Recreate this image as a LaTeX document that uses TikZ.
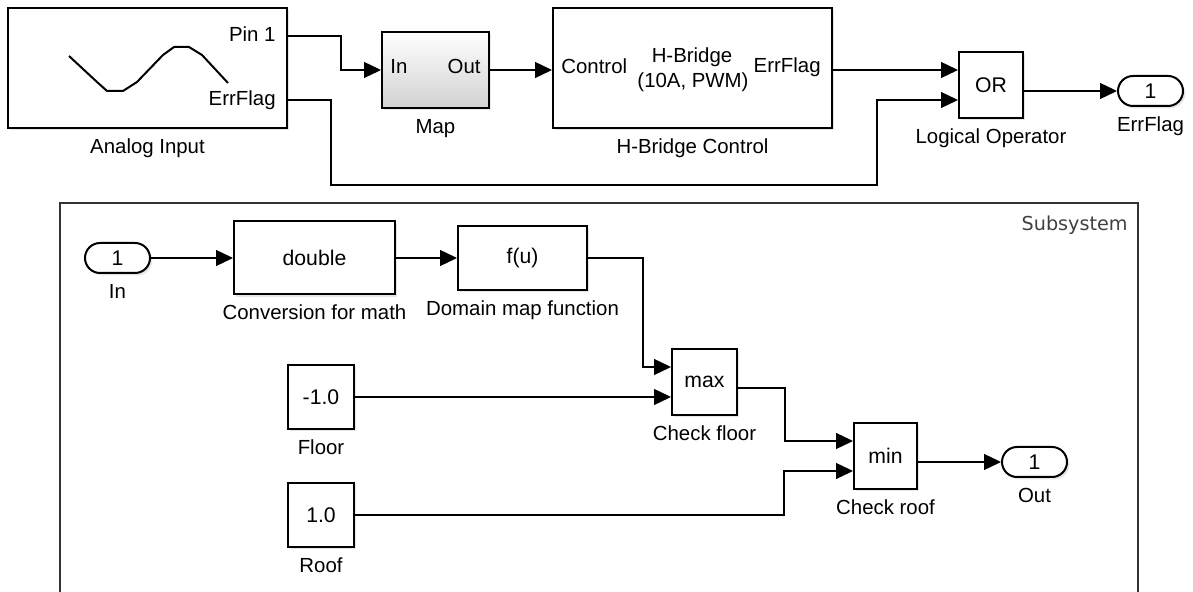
\documentclass[tikz,border=0pt]{standalone}
\usepackage{fontspec}
\setmainfont{Liberation Sans}
\newfontfamily\sysfont{DejaVu Sans}
\usetikzlibrary{arrows.meta,shadows}
\tikzset{
	blk/.style={draw,line width=1pt,fill=white,inner sep=0pt,
		drop shadow={shadow xshift=1.2pt,shadow yshift=-1.2pt,opacity=0.2},
		font=\fontsize{10.6}{12}\selectfont},
	port/.style={blk,rounded corners=7.5pt,minimum width=32.5pt,minimum height=15pt},
	lbl/.style={font=\fontsize{10.2}{12}\selectfont,inner sep=1pt,text height=7.4pt,text depth=2pt},
	every label/.style={lbl},
	label distance=3.5pt,
	sig/.style={line width=0.65pt,-{Triangle[length=8.5pt,width=8pt]}}
}
\begin{document}
\begin{tikzpicture}[x=0.5pt,y=-0.5pt]
	\useasboundingbox (0,0) rectangle (1193,592);
	\node[blk,minimum width=139.5pt,minimum height=60pt,label={below:Analog Input}] (ai) at (147.5,68) {};
	\draw[line width=1pt] (69,56) -- (97,82) -- (107,91) -- (123,91) -- (137,82) -- (163,55)
	-- (174,47) -- (189,47) -- (202,55) -- (228,83);
	\node[lbl,anchor=east] (aipin) at (278,36) {Pin 1};
	\node[lbl,anchor=east] (aierr) at (278,100) {ErrFlag};
	\node[blk,top color=white,bottom color=black!18,minimum width=53.5pt,minimum height=38pt,label={below:Map}] (map) at (435.5,70) {};
	\node[lbl,anchor=west] (mapin) at (388,68) {In};
	\node[lbl,anchor=east] (mapout) at (483,68) {Out};
	\node[blk,minimum width=139.5pt,minimum height=60pt,label={below:H-Bridge Control}] (hb) at (692.5,68) {};
	\node[lbl,anchor=west] (hbctl) at (559,68) {Control};
	\node[lbl] (hbname) at (692,57) {H-Bridge};
	\node[lbl] (hbspec) at (693,82) {(10A, PWM)};
	\node[lbl,anchor=east] (hberr) at (823,67) {ErrFlag};
	\node[blk,minimum width=32pt,minimum height=33pt,label={below:Logical Operator}] (or) at (991,85) {OR};
	\node[port,label={below:ErrFlag}] (errflag) at (1150.5,91) {1};
	\coordinate (errbus) at (877,185);
	\draw[sig] ([yshift=16pt]ai.east) -- ++(53,0) |- (map.west);
	\draw[sig] (map.east) -- (map.east -| hb.west);
	\draw[sig] ([yshift=-1pt]hb.east) -- ([yshift=7.5pt]or.west);
	\draw[sig] ([yshift=-16pt]ai.east) -- ++(43,0) |- (errbus) |- ([yshift=-7.5pt]or.west);
	\draw[sig] ([yshift=-3pt]or.east) -- ([yshift=-3pt]or.east -| errflag.west);

	\draw[line width=0.8pt,black!80] (60,595) -- (60,203) -- (1138,203) -- (1138,595);
	\node[font=\sysfont\fontsize{9.6}{11}\selectfont,text=black!75,anchor=east,inner sep=0pt] (sslbl) at (1128,225) {Subsystem};
	\node[port,label={below:In}] (in) at (117.5,258) {1};
	\node[blk,minimum width=80.5pt,minimum height=36.5pt,label={below:Conversion for math}] (dbl) at (314.5,258) {double};
	\node[blk,minimum width=64.5pt,minimum height=32pt,label={below:Domain map function}] (fu) at (522.5,258) {f(u)};
	\node[blk,minimum width=32.5pt,minimum height=33pt,label={below:Check floor}] (mx) at (704.5,382) {max};
	\node[blk,minimum width=33pt,minimum height=32pt,label={below:Floor}] (flr) at (321,397) {-1.0};
	\node[blk,minimum width=33pt,minimum height=32pt,label={below:Roof}] (rf) at (321,515) {1.0};
	\node[blk,minimum width=31.5pt,minimum height=33pt,label={below:Check roof}] (mn) at (885.5,456) {min};
	\node[port,label={below:Out}] (out) at (1034.5,462) {1};
	\draw[sig] (in) -- (dbl);
	\draw[sig] (dbl) -- (fu);
	\draw[sig] (fu.east) -- ++(55,0) |- ([yshift=7.5pt]mx.west);
	\draw[sig] (flr.east) -- (flr.east -| mx.west);
	\draw[sig] ([yshift=-3pt]mx.east) -- ++(47,0) |- ([yshift=7.5pt]mn.west);
	\draw[sig] (rf.east) -- ++(429,0) |- ([yshift=-7.5pt]mn.west);
	\draw[sig] ([yshift=-3pt]mn.east) -- ([yshift=-3pt]mn.east -| out.west);
\end{tikzpicture}
\end{document}
